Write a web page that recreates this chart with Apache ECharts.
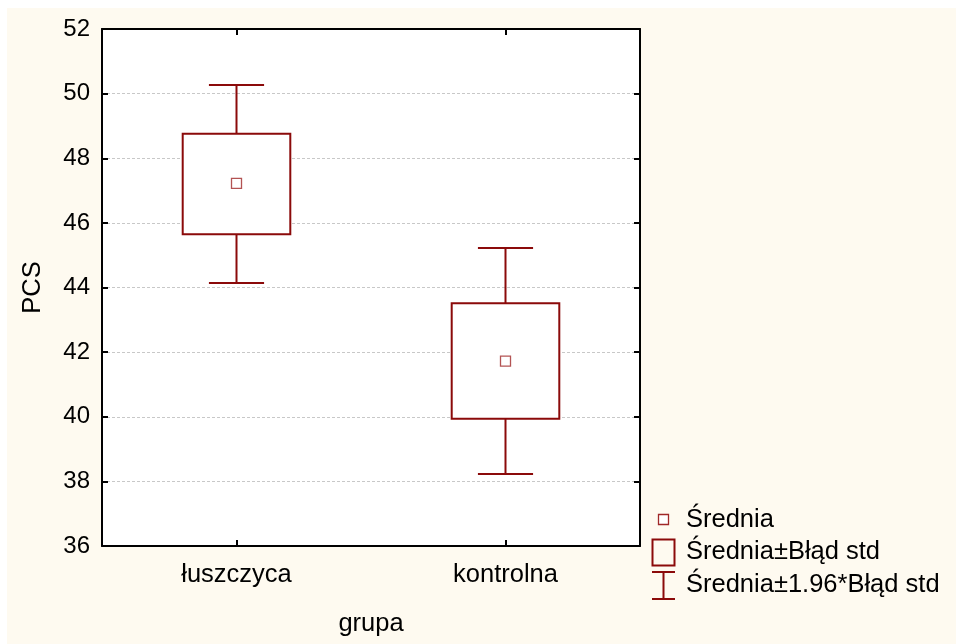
<!DOCTYPE html>
<html>
<head>
<meta charset="utf-8">
<script src="https://cdn.jsdelivr.net/npm/echarts@6/dist/echarts.min.js"></script>
<style>
  html, body { margin: 0; padding: 0; background: #ffffff; }
  #chart { width: 956px; height: 644px; }
</style>
</head>
<body>
<div id="chart"></div>
<script>
// Group labels on the category axis
const categories = ['łuszczyca', 'kontrolna'];
// Mean PCS per group
const means = [47.22, 41.72];
// Mean ± standard error (box)
const boxLow = [45.65, 39.94];
const boxHigh = [48.76, 43.51];
// Mean ± 1.96 * standard error (whiskers)
const whiskerLow = [44.14, 38.23];
const whiskerHigh = [50.27, 45.22];
// Value axis ticks
const yMin = 36, yMax = 52, yStep = 2;

const RED = '#8B0A0A';
const FONT = "'Liberation Sans', Arial, sans-serif";
const FS_NUM = 24;   // tick numbers
const FS = 25.5;     // words

const chart = echarts.init(document.getElementById('chart'), null, { renderer: 'canvas' });

const boxData = categories.map((c, i) => [i, whiskerLow[i], boxLow[i], boxHigh[i], whiskerHigh[i]]);
const meanData = categories.map((c, i) => [i, means[i]]);

function renderBox(params, api) {
  const idx = api.value(0);
  const band = api.size([1, 0])[0];
  const boxW = band * 0.4;
  const capW = band * 0.205;
  const pWL = api.coord([idx, api.value(1)]);
  const pBL = api.coord([idx, api.value(2)]);
  const pBH = api.coord([idx, api.value(3)]);
  const pWH = api.coord([idx, api.value(4)]);
  const cx = pBL[0];
  const style = { stroke: RED, lineWidth: 2, fill: null };
  return {
    type: 'group',
    children: [
      { type: 'line', shape: { x1: cx, y1: pWH[1], x2: cx, y2: pBH[1] }, style },
      { type: 'line', shape: { x1: cx, y1: pBL[1], x2: cx, y2: pWL[1] }, style },
      { type: 'line', shape: { x1: cx - capW / 2, y1: pWH[1], x2: cx + capW / 2, y2: pWH[1] }, style },
      { type: 'line', shape: { x1: cx - capW / 2, y1: pWL[1], x2: cx + capW / 2, y2: pWL[1] }, style },
      { type: 'rect', shape: { x: cx - boxW / 2, y: pBH[1], width: boxW, height: pBL[1] - pBH[1] },
        style: { stroke: RED, lineWidth: 2, fill: '#ffffff' } }
    ]
  };
}

const axisLine = { show: true, lineStyle: { color: '#000', width: 2 } };
const wordStyle = { color: '#000', fontFamily: FONT, fontSize: FS };
const numStyle = { color: '#000', fontFamily: FONT, fontSize: FS_NUM };

const option = {
  backgroundColor: '#ffffff',
  animation: false,
  textStyle: { fontFamily: FONT },
  grid: {
    left: 102, top: 29, width: 538, height: 517,
    show: true, backgroundColor: '#ffffff', borderWidth: 0
  },
  xAxis: [
    {
      type: 'category', data: categories, position: 'bottom',
      boundaryGap: true,
      name: 'grupa', nameLocation: 'middle', nameGap: 65,
      nameTextStyle: wordStyle,
      axisLine,
      axisTick: { show: true, inside: true, alignWithLabel: true, length: 6, lineStyle: { color: '#000', width: 2 } },
      axisLabel: Object.assign({ margin: 16 }, wordStyle),
      splitLine: { show: false }
    },
    {
      type: 'category', data: categories, position: 'top',
      boundaryGap: true,
      axisLine,
      axisTick: { show: true, inside: true, alignWithLabel: true, length: 6, lineStyle: { color: '#000', width: 2 } },
      axisLabel: { show: false },
      splitLine: { show: false }
    }
  ],
  yAxis: [
    {
      type: 'value', min: yMin, max: yMax, interval: yStep, position: 'left',
      name: 'PCS', nameLocation: 'middle', nameGap: 56, nameRotate: 90,
      nameTextStyle: wordStyle,
      axisLine,
      axisTick: { show: true, inside: true, length: 6, lineStyle: { color: '#000', width: 2 } },
      axisLabel: Object.assign({ margin: 12 }, numStyle),
      splitLine: { show: true, lineStyle: { color: '#c8c8c8', width: 1, type: [3, 2] } }
    },
    {
      type: 'value', min: yMin, max: yMax, interval: yStep, position: 'right',
      axisLine,
      axisTick: { show: true, inside: true, length: 6, lineStyle: { color: '#000', width: 2 } },
      axisLabel: { show: false },
      splitLine: { show: false }
    }
  ],
  series: [
    {
      name: 'Średnia±1.96*Błąd std',
      type: 'custom',
      xAxisIndex: 0, yAxisIndex: 0,
      renderItem: renderBox,
      encode: { x: 0, y: [1, 2, 3, 4] },
      data: boxData,
      z: 3
    },
    {
      name: 'Średnia',
      type: 'scatter',
      xAxisIndex: 0, yAxisIndex: 0,
      symbol: 'rect', symbolSize: 10,
      itemStyle: { color: '#ffffff', borderColor: '#a02828', borderWidth: 1.3 },
      data: meanData,
      z: 4
    }
  ],
  graphic: [
    { type: 'rect', z: -100, silent: true, shape: { x: 7, y: 8, width: 949, height: 636 }, style: { fill: '#fefaf0' } },
    // legend: mean marker
    { type: 'rect', shape: { x: 658.5, y: 514.5, width: 10, height: 10 }, style: { fill: '#fff', stroke: '#a02828', lineWidth: 1.3 } },
    { type: 'text', left: 686, top: 507, style: { text: 'Średnia', fill: '#000', font: FS + 'px ' + FONT } },
    // legend: standard error box
    { type: 'rect', shape: { x: 652.5, y: 539.5, width: 22, height: 26 }, style: { fill: null, stroke: RED, lineWidth: 2 } },
    { type: 'text', left: 686, top: 539, style: { text: 'Średnia±Błąd std', fill: '#000', font: FS + 'px ' + FONT } },
    // legend: 1.96 * standard error whisker
    { type: 'line', shape: { x1: 652, y1: 572, x2: 675, y2: 572 }, style: { stroke: RED, lineWidth: 2 } },
    { type: 'line', shape: { x1: 663.5, y1: 572, x2: 663.5, y2: 599 }, style: { stroke: RED, lineWidth: 2 } },
    { type: 'line', shape: { x1: 652, y1: 599, x2: 675, y2: 599 }, style: { stroke: RED, lineWidth: 2 } },
    { type: 'text', left: 686, top: 572, style: { text: 'Średnia±1.96*Błąd std', fill: '#000', font: FS + 'px ' + FONT } }
  ]
};

chart.setOption(option);
</script>
</body>
</html>
